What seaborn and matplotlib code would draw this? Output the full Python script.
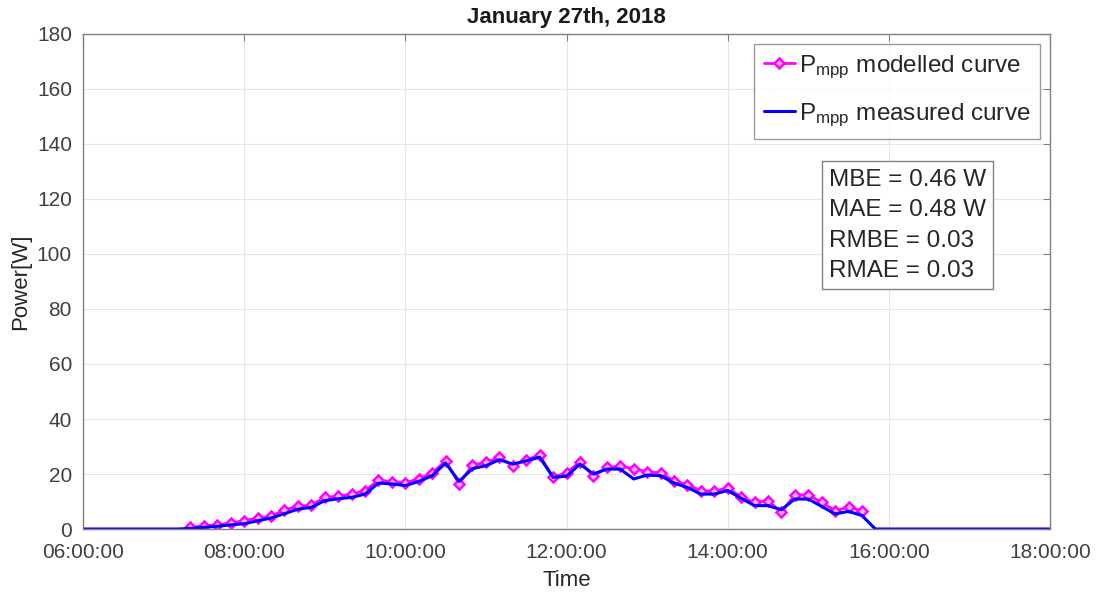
import pandas as pd
import numpy as np
import matplotlib
matplotlib.use("Agg")
import matplotlib.pyplot as plt
import matplotlib.dates as mdates
import seaborn as sns

# modelled curve, 10 minute steps from 07:20 to 15:40
model_times = pd.date_range("2018-01-27 07:20", "2018-01-27 15:40", freq="10min")
model_power = [0.6, 1.2, 1.5, 2.2, 3.0, 4.0, 4.6, 7.0, 8.2, 8.7,
               11.5, 11.9, 12.7, 13.9, 17.8, 17.2, 16.9, 18.2, 20.4, 24.8,
               16.4, 23.3, 24.2, 26.1, 23.0, 25.2, 26.9, 18.8, 20.4, 24.5,
               19.2, 22.4, 22.8, 22.0, 20.8, 20.4, 17.6, 16.0, 14.0, 13.7,
               15.0, 11.6, 9.7, 10.3, 6.1, 12.4, 12.4, 9.7, 6.7, 7.9, 6.7]

# measured curve
meas_day = [0.2, 0.6, 1.0, 1.5, 1.9, 3.0, 4.0, 5.6, 7.2, 7.9,
            10.3, 11.0, 11.5, 12.7, 16.7, 16.4, 15.8, 17.3, 19.4, 24.0,
            17.3, 22.0, 23.0, 25.2, 23.6, 24.8, 26.1, 18.8, 19.2, 23.6,
            20.0, 21.8, 21.8, 18.2, 19.6, 19.4, 16.7, 15.1, 12.7, 12.7,
            14.0, 11.2, 8.5, 8.5, 7.0, 10.9, 10.9, 8.2, 5.5, 6.4, 4.9]
meas_times = ([pd.Timestamp("2018-01-27 06:00"), pd.Timestamp("2018-01-27 07:10")]
              + list(model_times)
              + [pd.Timestamp("2018-01-27 15:50"), pd.Timestamp("2018-01-27 18:00")])
meas_power = [0.0, 0.0] + meas_day + [0.0, 0.0]

stats_text = "MBE = 0.46 W\nMAE = 0.48 W\nRMBE = 0.03\nRMAE = 0.03"

model_df = pd.DataFrame({"Time": model_times, "Power": model_power})
meas_df = pd.DataFrame({"Time": meas_times, "Power": meas_power})

sns.set_style("whitegrid")
plt.rcParams["font.family"] = ["Liberation Sans", "DejaVu Sans"]
plt.rcParams["mathtext.fontset"] = "custom"
plt.rcParams["mathtext.rm"] = "Liberation Sans"
plt.rcParams["mathtext.it"] = "Liberation Sans:italic"
plt.rcParams["mathtext.bf"] = "Liberation Sans:bold"
plt.rcParams["text.color"] = "#262626"

fig = plt.figure(figsize=(11, 5.96), dpi=100)
ax = fig.add_axes([0.0755, 0.1124, 0.879, 0.8306])

sns.lineplot(data=model_df, x="Time", y="Power", ax=ax, color="magenta", lw=2,
             marker="D", markersize=5.5, markerfacecolor="#ffb0ff", markeredgecolor="magenta",
             markeredgewidth=1.8, label=r"P$_{\mathrm{mpp}}$ modelled curve")
sns.lineplot(data=meas_df, x="Time", y="Power", ax=ax, color="#0000ff", lw=2.2,
             label=r"P$_{\mathrm{mpp}}$ measured curve")

ax.set_xlim(pd.Timestamp("2018-01-27 06:00"), pd.Timestamp("2018-01-27 18:00"))
ax.set_ylim(0, 180)
ax.set_yticks(np.arange(0, 181, 20))
ax.xaxis.set_major_locator(mdates.HourLocator(byhour=range(6, 19, 2)))
ax.xaxis.set_major_formatter(mdates.DateFormatter("%H:%M:%S"))

ax.grid(True, color="#e6e6e6", lw=0.8)
for s in ax.spines.values():
    s.set_color("#808080")
    s.set_linewidth(1)
ax.tick_params(axis="both", direction="in", length=5, color="#808080",
               labelsize=15, labelcolor="#404040", top=True, right=True)
ax.tick_params(axis="x", pad=10)
ax.tick_params(axis="y", pad=8)

ax.set_xlabel("Time", fontsize=16, color="#262626", labelpad=6)
ax.set_ylabel("Power[W]", fontsize=16, color="#262626", labelpad=4)
ax.set_title("January 27th, 2018", fontsize=16, fontweight="bold", color="#1a1a1a", pad=8)

leg = ax.legend(loc="upper right", fontsize=17.5, frameon=True, fancybox=False,
                handlelength=1.3, handletextpad=0.15, borderpad=0.4, labelspacing=0.85,
                borderaxespad=0.4)
leg.get_frame().set_edgecolor("#808080")
leg.get_frame().set_linewidth(1)

ax.text(0.7715, 0.728, stats_text, transform=ax.transAxes, fontsize=17.5,
        va="top", ha="left", linespacing=1.5,
        bbox=dict(boxstyle="square,pad=0.3", fc="white", ec="#808080", lw=1))

fig.savefig("out.png", dpi=100)
